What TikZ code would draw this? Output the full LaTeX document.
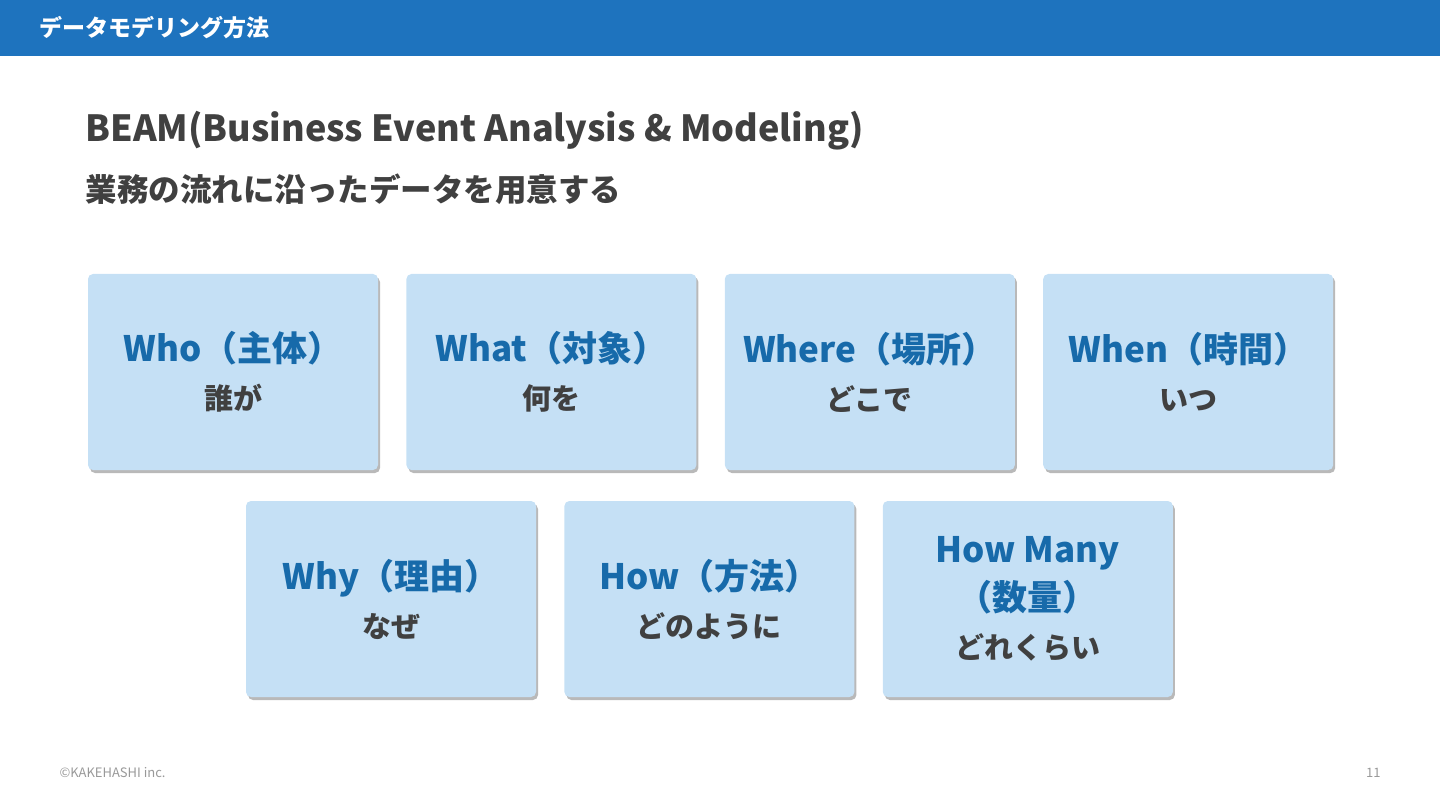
\documentclass[tikz,border=0pt]{standalone}
\usepackage{fontspec}
\setmainfont{Noto Sans CJK JP}
\usetikzlibrary{positioning,shadows}
\definecolor{barblue}{HTML}{1E73BE}
\definecolor{cardfill}{HTML}{C5E0F5}
\definecolor{cardblue}{HTML}{176AAA}
\definecolor{inkgray}{HTML}{404040}
\newcommand{\headfont}{\fontsize{35}{46}\selectfont\bfseries\color{cardblue}}% card title line
\newcommand{\subfont}{\fontsize{29}{46}\selectfont\bfseries\color{inkgray}}% card sub line
\tikzset{
  card/.style={rectangle, rounded corners=5pt, fill=cardfill, minimum width=290pt,
    minimum height=196pt, inner sep=0pt, align=center, font=\fontsize{27}{48}\selectfont,
    drop shadow={shadow xshift=2pt, shadow yshift=-3pt, fill=black!50, opacity=.55}},
}

\begin{document}
\begin{tikzpicture}[x=1pt,y=-1pt]
\useasboundingbox (0,0) rectangle (1440,810);

% Header bar
\fill[barblue] (0,0) rectangle (1440,56);
\node[anchor=west, text=white, font=\fontsize{23}{26}\selectfont\bfseries] (header) at (36,28) {データモデリング方法};

% Title and subtitle
\node[anchor=west, text=inkgray, font=\fontsize{36}{40}\selectfont\bfseries] (title) at (82,131) {BEAM(Business Event Analysis \& Modeling)};
\node[anchor=west, text=inkgray, font=\fontsize{31.5}{34}\selectfont\bfseries] (subtitle) at (82,189) {業務の流れに沿ったデータを用意する};

% Upper row of cards
\node[card] (who) at (233,372) {{\headfont Who（主体）}\\{\subfont 誰が}};
\node[card, right=28pt of who] (what) {{\headfont What（対象）}\\{\subfont 何を}};
\node[card, right=28pt of what] (where) {{\headfont Where（場所）}\\{\subfont どこで}};
\node[card, right=28pt of where] (when) {{\headfont When（時間）}\\{\subfont いつ}};

% Lower row of cards
\node[card] (why) at (391,599) {{\headfont Why（理由）}\\{\subfont なぜ}};
\node[card, right=28pt of why] (how) {{\headfont How（方法）}\\{\subfont どのように}};
\node[card, right=28pt of how] (howmany) {{\headfont How Many}\\{\headfont （数量）}\\{\subfont どれくらい}};

% Footer
\node[anchor=west, text=black!40, font=\fontsize{13}{15}\selectfont] (copyright) at (56,773) {©KAKEHASHI inc.};
\node[anchor=east, text=black!40, font=\fontsize{13}{15}\selectfont] (pagenum) at (1384,773) {11};

\end{tikzpicture}
\end{document}
